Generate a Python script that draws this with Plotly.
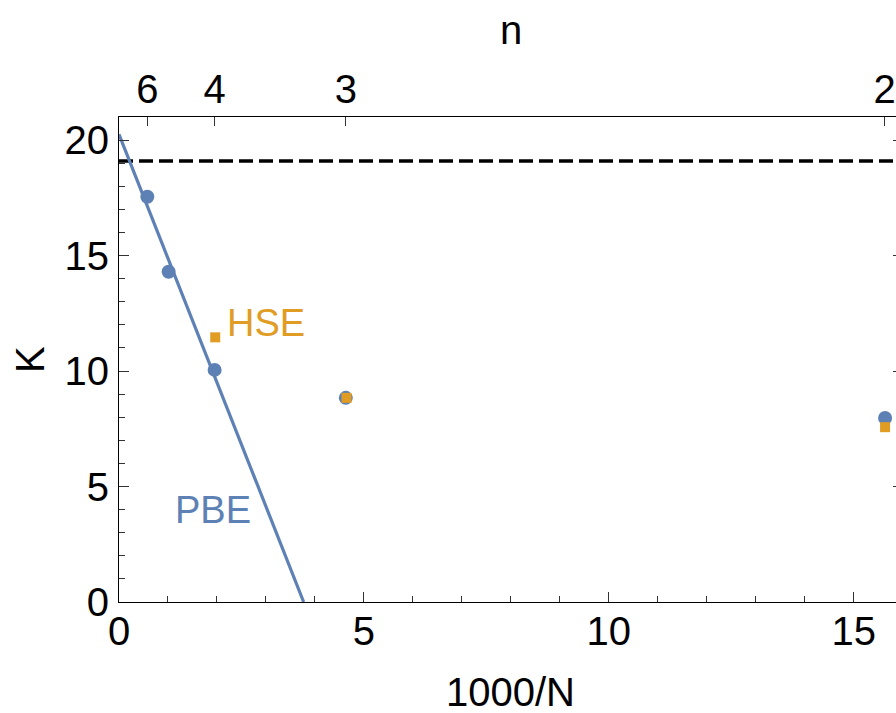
import plotly.graph_objects as go

# ---- data ----
pbe_x = [0.578, 1.013, 1.952, 4.63, 15.64]
pbe_k = [17.55, 14.30, 10.05, 8.84, 7.97]
hse_x = [1.965, 4.645, 15.64]
hse_k = [11.46, 8.84, 7.57]
fit_x = [0.0, 3.77]
fit_k = [20.25, 0.0]
ref_k = 19.1
n_tick_pos = [0.578, 1.952, 4.63, 15.63]
n_tick_text = ["6", "4", "3", "2"]

X_MAX = 15.863
Y_MAX = 21.0
BLUE = "#5E81B5"
ORANGE = "#E19C24"
FONT = "Liberation Sans, Arial, sans-serif"
FS = 40

fig = go.Figure()
fig.add_trace(go.Scatter(x=[0, X_MAX], y=[ref_k, ref_k], mode="lines",
                         line=dict(color="black", width=3.5, dash="14px,6px"),
                         showlegend=False, hoverinfo="skip"))
fig.add_trace(go.Scatter(x=fit_x, y=fit_k, mode="lines",
                         line=dict(color=BLUE, width=3.2), showlegend=False))
fig.add_trace(go.Scatter(x=pbe_x, y=pbe_k, mode="markers",
                         marker=dict(color=BLUE, size=14, symbol="circle"),
                         showlegend=False, cliponaxis=False))
fig.add_trace(go.Scatter(x=hse_x, y=hse_k, mode="markers",
                         marker=dict(color=ORANGE, size=10, symbol="square"),
                         showlegend=False, cliponaxis=False))
# dummy trace on the top/right axes
fig.add_trace(go.Scatter(x=[None], y=[None], xaxis="x2", yaxis="y2",
                         showlegend=False, hoverinfo="skip"))

tickfont = dict(family=FONT, size=FS, color="black")
fig.update_layout(
    width=896, height=713,
    margin=dict(l=118.7, r=0, t=117.3, b=110.7, pad=0),
    paper_bgcolor="white", plot_bgcolor="white",
    font=dict(family=FONT, size=FS, color="black"),
    xaxis=dict(range=[0, X_MAX], showgrid=False, zeroline=False,
               showline=True, linecolor="black", linewidth=1,
               ticks="inside", ticklen=10, tickwidth=1, tickcolor="#333",
               dtick=5, tick0=0, tickfont=tickfont, ticklabelstandoff=-6,
               minor=dict(dtick=1, ticks="inside", ticklen=6, tickcolor="#333", showgrid=False)),
    yaxis=dict(range=[0, Y_MAX], showgrid=False, zeroline=False,
               showline=True, linecolor="black", linewidth=1,
               ticks="inside", ticklen=10, tickwidth=1, tickcolor="#333",
               dtick=5, tick0=0, tickfont=tickfont, ticklabelstandoff=1,
               minor=dict(dtick=1, ticks="inside", ticklen=6, tickcolor="#333", showgrid=False)),
    xaxis2=dict(range=[0, X_MAX], overlaying="x", side="top", anchor="y",
                showgrid=False, zeroline=False, showline=True, linecolor="black", linewidth=1,
                ticks="inside", ticklen=9, tickwidth=1, tickcolor="#333",
                tickmode="array", tickvals=n_tick_pos, ticktext=n_tick_text,
                tickfont=tickfont, ticklabelstandoff=-3),
    yaxis2=dict(range=[0, Y_MAX], overlaying="y", side="right", anchor="x",
                showgrid=False, zeroline=False, showline=False,
                ticks="inside", ticklen=3, tickwidth=1, tickcolor="#333",
                dtick=5, tick0=0, showticklabels=False),
    annotations=[
        dict(text="1000/N", xref="x", yref="paper", x=8, y=-0.1856,
             xanchor="center", yanchor="middle", showarrow=False,
             font=dict(family=FONT, size=FS, color="black")),
        dict(text="n", xref="x", yref="paper", x=8, y=1.18,
             xanchor="center", yanchor="middle", showarrow=False,
             font=dict(family=FONT, size=FS, color="black")),
        dict(text="K", xref="paper", yref="paper", x=-0.1151, y=0.5,
             xanchor="center", yanchor="middle", textangle=-90, showarrow=False,
             font=dict(family=FONT, size=FS, color="black")),
        dict(text="HSE", xref="x", yref="y", x=2.17, y=12.07,
             xanchor="left", yanchor="middle", showarrow=False,
             font=dict(family=FONT, size=38, color=ORANGE)),
        dict(text="PBE", xref="x", yref="y", x=1.915, y=4.0,
             xanchor="center", yanchor="middle", showarrow=False,
             font=dict(family=FONT, size=38, color=BLUE)),
    ],
)

fig.write_html("out.html")
